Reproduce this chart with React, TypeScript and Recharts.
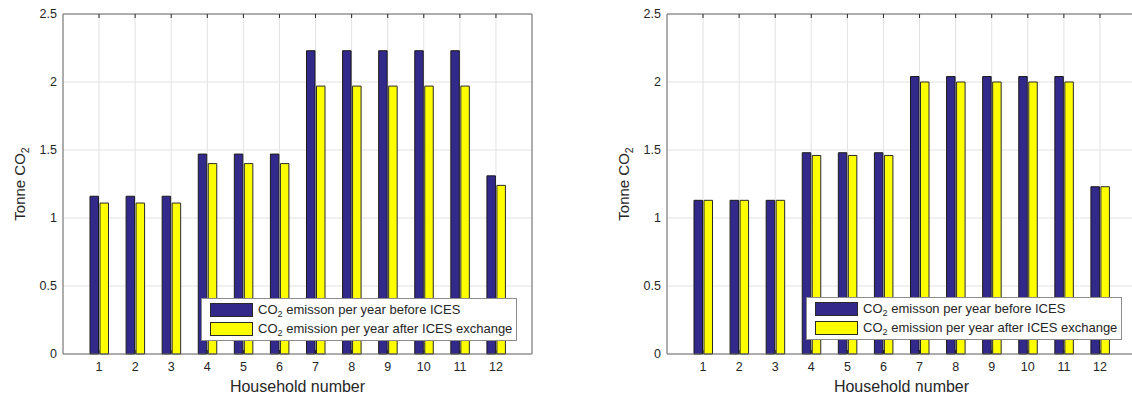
import React from 'react';
import { BarChart, Bar, XAxis, YAxis, CartesianGrid } from 'recharts';

const households = ['1', '2', '3', '4', '5', '6', '7', '8', '9', '10', '11', '12'];
const leftBefore = [1.16, 1.16, 1.16, 1.47, 1.47, 1.47, 2.23, 2.23, 2.23, 2.23, 2.23, 1.31];
const leftAfter = [1.11, 1.11, 1.11, 1.40, 1.40, 1.40, 1.97, 1.97, 1.97, 1.97, 1.97, 1.24];
const rightBefore = [1.13, 1.13, 1.13, 1.48, 1.48, 1.48, 2.04, 2.04, 2.04, 2.04, 2.04, 1.23];
const rightAfter = [1.13, 1.13, 1.13, 1.46, 1.46, 1.46, 2.0, 2.0, 2.0, 2.0, 2.0, 1.23];
const yTicks = [0, 0.5, 1, 1.5, 2, 2.5];
const beforeName = 'emisson per year before ICES';
const afterName = 'emission per year after ICES exchange';
const xTitle = 'Household number';

const FONT = '"Liberation Sans", Arial, Helvetica, sans-serif';
const BLUE = '#33298a';
const YELLOW = '#ffff00';
const AXIS = '#6b6b6b';
const TXT = '#262626';

const YLabel = (props: any) => {
  const vb = props.viewBox || {};
  const cx = (vb.x || 0) + 25;
  const cy = (vb.y || 0) + (vb.height || 0) / 2;
  return (
    <text x={cx} y={cy} transform={`rotate(-90 ${cx} ${cy})`} textAnchor="middle" fontSize={15} fill={TXT} fontFamily={FONT}>
      Tonne CO<tspan dy={4} fontSize={10.5}>2</tspan>
    </text>
  );
};

const Legend = ({ left, top }: { left: number; top: number }) => {
  const row = (color: string, name: string, y: number) => (
    <div style={{ position: 'absolute', left: 0, top: y, height: 15, width: '100%' }}>
      <div style={{ position: 'absolute', left: 8, top: 0, width: 43, height: 14, background: color, border: '1px solid #2a2a2a', boxSizing: 'border-box' }} />
      <div style={{ position: 'absolute', left: 56, top: -1, whiteSpace: 'nowrap', lineHeight: '16px' }}>
        CO<sub style={{ fontSize: '0.7em', verticalAlign: '-0.35em', lineHeight: 0 }}>2</sub> {name}
      </div>
    </div>
  );
  return (
    <div style={{ position: 'absolute', left, top, width: 316, height: 43, border: '1px solid #8c8c8c', background: '#fff', boxSizing: 'border-box', fontFamily: FONT, fontSize: 13, color: TXT }}>
      {row(BLUE, beforeName, 4)}
      {row(YELLOW, afterName, 23)}
    </div>
  );
};

const Chart = ({ before, after }: { before: number[]; after: number[] }) => {
  const data = households.map((h, i) => ({ h, before: before[i], after: after[i] }));
  const pad = { left: 18, right: 18 };
  const blank = () => '';
  return (
    <BarChart width={560} height={396} data={data} margin={{ top: 14, right: 28, bottom: 0, left: 0 }} barSize={8.5} barGap={1.5}>
      <CartesianGrid xAxisId="main" yAxisId="main" stroke="#e2e2e2" />
      <XAxis
        xAxisId="main"
        dataKey="h"
        padding={pad}
        height={42}
        tickLine={false}
        tickSize={0}
        tickMargin={8}
        axisLine={{ stroke: AXIS }}
        tick={{ fontSize: 12.5, fill: TXT, fontFamily: FONT }}
        label={{ value: xTitle, position: 'insideBottom', offset: 4, fontSize: 16, fill: TXT, fontFamily: FONT }}
      />
      <XAxis xAxisId="bt" dataKey="h" padding={pad} mirror axisLine={false} tickSize={4} tickLine={{ stroke: TXT }} tickFormatter={blank} />
      <XAxis xAxisId="top" orientation="top" dataKey="h" padding={pad} mirror axisLine={{ stroke: AXIS }} tickSize={4} tickLine={{ stroke: TXT }} tickFormatter={blank} />
      <YAxis
        yAxisId="main"
        width={63}
        domain={[0, 2.5]}
        ticks={yTicks}
        tickLine={false}
        tickSize={0}
        tickMargin={6}
        axisLine={{ stroke: AXIS }}
        tick={{ fontSize: 12.5, fill: TXT, fontFamily: FONT }}
        label={{ content: <YLabel /> }}
      />
      <YAxis yAxisId="lt" domain={[0, 2.5]} ticks={yTicks} mirror axisLine={false} tickSize={4} tickLine={{ stroke: TXT }} tickFormatter={blank} />
      <YAxis yAxisId="rt" orientation="right" domain={[0, 2.5]} ticks={yTicks} mirror axisLine={{ stroke: AXIS }} tickSize={4} tickLine={{ stroke: TXT }} tickFormatter={blank} />
      <Bar xAxisId="main" yAxisId="main" dataKey="before" name={beforeName} fill={BLUE} stroke="#1a1a1a" strokeWidth={1} isAnimationActive={false} />
      <Bar xAxisId="main" yAxisId="main" dataKey="after" name={afterName} fill={YELLOW} stroke="#2a2a2a" strokeWidth={1} isAnimationActive={false} />
    </BarChart>
  );
};

export default function App() {
  return (
    <div style={{ position: 'absolute', left: 0, top: 0, width: 1132, height: 396, overflow: 'hidden', background: '#fff' }}>
      <div style={{ position: 'absolute', left: 0, top: 0 }}>
        <Chart before={leftBefore} after={leftAfter} />
      </div>
      <div style={{ position: 'absolute', left: 604, top: 0 }}>
        <Chart before={rightBefore} after={rightAfter} />
      </div>
      <Legend left={201} top={298} />
      <Legend left={806} top={297} />
    </div>
  );
}
